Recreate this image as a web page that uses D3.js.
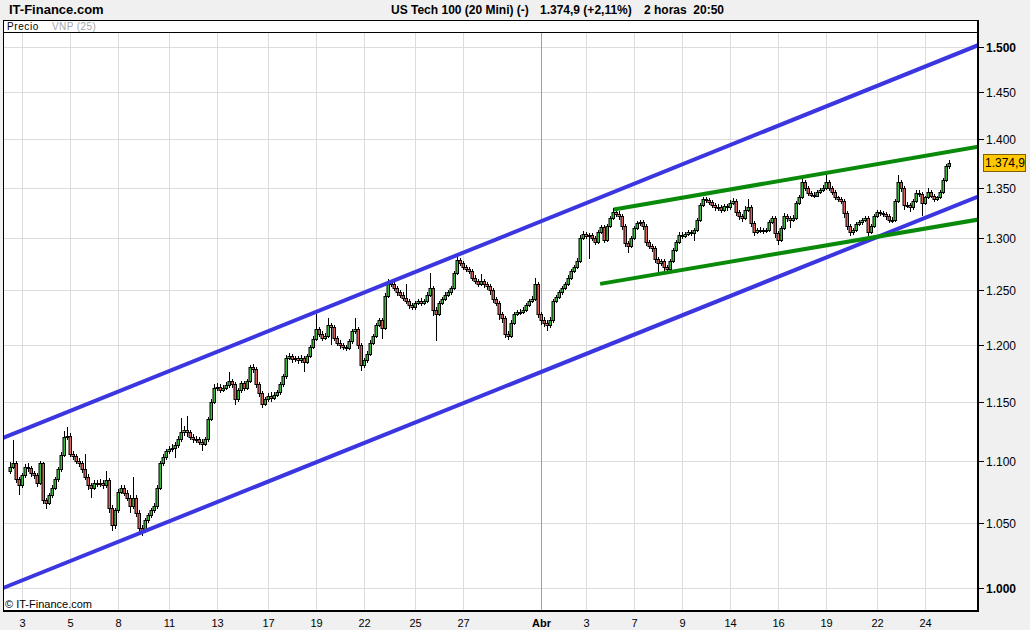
<!DOCTYPE html>
<html><head><meta charset="utf-8">
<script src="https://cdn.jsdelivr.net/npm/d3@7"></script>
<style>
body{margin:0;background:#f0f0f0;}
svg{display:block;font-family:Arial,"Liberation Sans",sans-serif;}
text{white-space:pre;}
</style>
</head><body>
<svg id="c" width="1030" height="630"></svg>
<script>
// ---- data (US Tech 100 mini, 2h bars) ----
const firstOpen = 1092;
const closes = [1095,1098,1085,1080,1088,1095,1094,1090,1088,1082,1098,1068,1066,1072,1078,1085,1093,1105,1120,1121,
1106,1104,1100,1098,1093,1087,1080,1078,1082,1081,1082,1080,1084,1062,1048,1060,1075,1078,1074,1070,
1063,1070,1058,1046,1044,1052,1056,1060,1063,1078,1098,1103,1108,1110,1111,1113,1118,1124,1126,1124,
1120,1118,1118,1116,1114,1118,1135,1150,1162,1163,1160,1162,1164,1168,1165,1152,1160,1166,1162,1168,
1180,1178,1165,1157,1148,1152,1155,1153,1156,1158,1165,1172,1188,1190,1187,1188,1186,1188,1185,1190,
1198,1205,1214,1210,1206,1208,1218,1216,1206,1202,1200,1198,1197,1203,1212,1214,1200,1182,1186,1192,
1202,1208,1218,1222,1215,1245,1258,1256,1252,1248,1246,1243,1240,1236,1234,1238,1240,1238,1240,1246,
1252,1232,1228,1238,1242,1246,1248,1252,1266,1279,1276,1272,1270,1268,1262,1259,1256,1259,1256,1254,
1250,1242,1238,1228,1224,1210,1208,1220,1228,1230,1230,1232,1236,1240,1242,1256,1228,1222,1220,1218,
1222,1240,1244,1248,1252,1256,1262,1268,1272,1278,1300,1304,1302,1303,1300,1296,1306,1311,1298,1312,
1320,1326,1324,1322,1312,1295,1292,1300,1310,1315,1316,1312,1296,1292,1290,1280,1276,1278,1272,1270,
1278,1288,1296,1303,1302,1304,1306,1305,1308,1318,1332,1338,1337,1335,1332,1330,1330,1328,1331,1330,
1334,1336,1326,1322,1320,1328,1330,1315,1306,1308,1308,1307,1308,1316,1320,1305,1298,1310,1322,1320,
1318,1320,1334,1340,1356,1350,1345,1343,1342,1346,1348,1350,1356,1350,1346,1340,1338,1336,1325,1312,
1306,1308,1314,1316,1318,1320,1306,1312,1322,1326,1325,1324,1322,1318,1318,1336,1356,1350,1332,1332,
1330,1336,1345,1344,1334,1340,1346,1342,1338,1340,1346,1358,1372,1374.9];
const highs = [1099,1117,1100,1087,1090,1097,1098,1096,1092,1090,1100,1099,1070,1074,1080,1087,1095,1107,1125,1128,
1123,1108,1106,1102,1100,1106,1089,1082,1084,1084,1085,1084,1092,1086,1064,1062,1077,1080,1080,1076,
1072,1087,1072,1060,1048,1054,1058,1062,1066,1080,1100,1106,1110,1112,1114,1116,1121,1136,1129,1138,
1126,1122,1121,1120,1118,1120,1137,1152,1165,1166,1165,1164,1167,1176,1170,1167,1162,1168,1168,1170,
1182,1183,1180,1167,1159,1154,1157,1158,1158,1160,1167,1174,1191,1193,1192,1190,1190,1191,1190,1192,
1200,1208,1228,1216,1212,1211,1224,1220,1218,1208,1204,1202,1200,1205,1214,1224,1216,1202,1188,1194,
1204,1210,1220,1224,1224,1247,1261,1260,1258,1254,1250,1248,1256,1242,1238,1240,1242,1243,1242,1248,
1266,1254,1234,1240,1244,1248,1250,1254,1268,1283,1281,1278,1274,1272,1270,1264,1261,1265,1261,1258,
1256,1252,1244,1240,1230,1226,1212,1222,1230,1232,1233,1234,1238,1242,1245,1262,1258,1230,1225,1222,
1225,1242,1246,1250,1254,1258,1264,1270,1274,1281,1303,1307,1306,1305,1305,1302,1308,1313,1313,1314,
1322,1329,1328,1327,1324,1314,1297,1302,1312,1317,1318,1318,1314,1298,1294,1292,1282,1280,1280,1274,
1280,1290,1298,1306,1306,1306,1308,1308,1310,1320,1334,1341,1340,1339,1337,1334,1333,1332,1333,1333,
1337,1339,1338,1328,1324,1331,1338,1332,1317,1310,1311,1310,1310,1318,1322,1322,1307,1312,1325,1324,
1322,1323,1336,1343,1360,1358,1352,1347,1346,1348,1350,1353,1364,1358,1352,1348,1342,1340,1338,1327,
1314,1310,1316,1318,1320,1322,1322,1314,1324,1328,1328,1327,1326,1324,1321,1338,1363,1358,1352,1335,
1334,1338,1348,1348,1346,1342,1350,1348,1344,1342,1348,1360,1374,1378];
const lows = [1089,1093,1082,1072,1078,1086,1091,1087,1085,1079,1080,1065,1061,1064,1070,1076,1083,1091,1103,1117,
1103,1101,1097,1095,1090,1084,1076,1070,1076,1079,1079,1077,1078,1058,1044,1045,1058,1073,1071,1067,
1058,1061,1055,1042,1040,1042,1050,1054,1058,1061,1076,1096,1101,1106,1107,1102,1111,1116,1121,1120,
1117,1115,1115,1113,1108,1112,1116,1133,1148,1159,1157,1158,1160,1162,1162,1147,1150,1157,1159,1160,
1166,1175,1162,1154,1144,1146,1150,1150,1151,1154,1156,1163,1170,1186,1184,1185,1183,1184,1176,1183,
1188,1196,1203,1207,1203,1204,1206,1200,1203,1199,1196,1195,1194,1195,1201,1210,1196,1177,1179,1184,
1190,1200,1206,1216,1205,1213,1243,1253,1249,1245,1243,1240,1237,1233,1232,1232,1236,1235,1236,1238,
1244,1226,1203,1226,1236,1240,1244,1246,1250,1264,1273,1269,1267,1265,1259,1256,1253,1254,1252,1250,
1246,1238,1235,1222,1220,1206,1204,1206,1218,1226,1227,1228,1230,1234,1238,1240,1224,1218,1216,1212,
1215,1220,1238,1242,1246,1250,1254,1260,1266,1270,1276,1298,1299,1280,1297,1293,1294,1304,1295,1296,
1310,1318,1321,1318,1308,1291,1285,1290,1298,1308,1312,1308,1292,1289,1286,1276,1266,1273,1268,1267,
1268,1276,1286,1294,1299,1300,1302,1302,1297,1306,1316,1330,1334,1332,1329,1327,1327,1325,1326,1327,
1328,1332,1322,1318,1316,1318,1326,1311,1302,1304,1305,1304,1305,1306,1314,1300,1293,1296,1308,1316,
1310,1316,1318,1332,1338,1347,1342,1340,1339,1340,1344,1346,1348,1347,1343,1337,1335,1333,1320,1308,
1302,1303,1306,1312,1313,1316,1302,1304,1310,1320,1322,1321,1318,1315,1315,1316,1334,1346,1328,1329,
1326,1328,1334,1341,1322,1332,1338,1339,1335,1336,1338,1344,1356,1369];
const priceTicks = [1000,1050,1100,1150,1200,1250,1300,1350,1400,1450,1500];
const boldTicks = [1000,1500];
const dateLabels = ["3","5","8","11","13","17","19","22","25","27","Abr","3","7","9","14","16","19","22","24"];
const dateIndex  = [4,20,36,53,69,86,102,118,135,151,177,192,208,224,240,256,272,289,305];
const monthLabel = "Abr";
const blueChannel = [ [[-2.3,1119],[322.7,1502]], [[-2.3,1000],[322.7,1341]] ];
const greenWedge  = [ [[201.3,1328],[322.7,1392]], [[196.7,1256],[322.7,1318]] ];
const titleParts = ["US Tech 100 (20 Mini) (-)", "1.374,9 (+2,11%)", "2 horas  20:50"];

// ---- layout ----
const L = 3, R = 978, T = 20, LEG = 32, B = 610;
const svg = d3.select("#c");
const es = d3.formatLocale({decimal:",", thousands:".", grouping:[3], currency:["","€"]});
const fmt0 = es.format(",.0f"), fmt1 = es.format(",.1f");

const bars = closes.map((c,i)=>({i, o: i===0?firstOpen:closes[i-1], h: highs[i], l: lows[i], c}));

const x = d3.scaleLinear().domain([0, closes.length-1]).range([10, 949]);
const y = d3.scaleLog().domain([1000,1500]).range([588,47]);

// header
svg.append("rect").attr("width",1030).attr("height",630).attr("fill","#f0f0f0");
svg.append("text").attr("x",9).attr("y",14).attr("font-size",13).attr("font-weight","bold").text("IT-Finance.com");
const tx = [391, 540, 644];
titleParts.forEach((t,k)=> svg.append("text").attr("x",tx[k]).attr("y",14).attr("font-size",12).attr("font-weight","bold").text(t));

// plot background
svg.append("rect").attr("x",L).attr("y",T).attr("width",R-L).attr("height",B-T).attr("fill","#fff");

// grid
const g = svg.append("g");
g.selectAll("line.h").data(priceTicks).join("line")
 .attr("x1",L).attr("x2",R).attr("y1",d=>Math.round(y(d))+0.5).attr("y2",d=>Math.round(y(d))+0.5)
 .attr("stroke","#dcdcdc");
g.selectAll("line.v").data(dateIndex).join("line")
 .attr("x1",d=>Math.round(x(d))+0.5).attr("x2",d=>Math.round(x(d))+0.5).attr("y1",LEG).attr("y2",B)
 .attr("stroke",(d,k)=>dateLabels[k]===monthLabel?"#a0a0a0":"#dcdcdc");

// legend row
svg.append("line").attr("x1",L).attr("x2",R).attr("y1",LEG+0.5).attr("y2",LEG+0.5).attr("stroke","#000");
svg.append("text").attr("x",7).attr("y",30).attr("font-size",10).attr("letter-spacing","0.6").text("Precio");
svg.append("text").attr("x",52).attr("y",30).attr("font-size",10).attr("fill","#a8a8a8").attr("letter-spacing","0.4").text("VNP (25)");

// candles
const cg = svg.append("g");
bars.forEach(d=>{
  const cx = Math.round(x(d.i)) + 0.5;
  cg.append("line").attr("x1",cx).attr("x2",cx).attr("y1",Math.round(y(d.h))).attr("y2",Math.round(y(d.l)))
    .attr("stroke","#000").attr("stroke-width",1);
});
bars.forEach(d=>{
  const cx = Math.round(x(d.i));
  const yt = Math.round(y(Math.max(d.o,d.c))), yb = Math.round(y(Math.min(d.o,d.c)));
  cg.append("rect").attr("x",cx-1).attr("y",yt+0.5).attr("width",2.5).attr("height",Math.max(1,yb-yt))
    .attr("fill", d.c>=d.o ? "#38c038" : "#e0605c").attr("stroke","#000").attr("stroke-width",1);
});

// trend lines
svg.append("clipPath").attr("id","clip").append("rect").attr("x",L).attr("y",LEG).attr("width",R-L).attr("height",B-LEG);
const line = d3.line().x(p=>x(p[0])).y(p=>y(p[1]));
const tl = svg.append("g").attr("clip-path","url(#clip)");
blueChannel.forEach(p=> tl.append("path").attr("d",line(p)).attr("stroke","#3b36e0").attr("stroke-width",4).attr("fill","none"));
greenWedge.forEach(p=> tl.append("path").attr("d",line(p)).attr("stroke","#0a8a0a").attr("stroke-width",4).attr("fill","none"));

// watermark
svg.append("text").attr("x",5).attr("y",608).attr("font-size",11).text("© IT-Finance.com");

// frame
svg.append("line").attr("x1",L+0.5).attr("x2",L+0.5).attr("y1",T).attr("y2",B).attr("stroke","#000");
svg.append("line").attr("x1",L).attr("x2",R).attr("y1",T+0.5).attr("y2",T+0.5).attr("stroke","#000");
svg.append("line").attr("x1",R).attr("x2",R).attr("y1",T).attr("y2",B+2).attr("stroke","#000").attr("stroke-width",2);
svg.append("line").attr("x1",L).attr("x2",R+1).attr("y1",B+1).attr("y2",B+1).attr("stroke","#000").attr("stroke-width",2);

// right axis
const ax = svg.append("g");
priceTicks.forEach(v=>{
  const yy = Math.round(y(v))+0.5;
  ax.append("line").attr("x1",R).attr("x2",R+6).attr("y1",yy).attr("y2",yy).attr("stroke","#000");
  ax.append("text").attr("x",R+8).attr("y",yy+4).attr("font-size",12)
    .attr("font-weight", boldTicks.includes(v)?"bold":"normal").text(fmt0(v));
});

// last price box
const last = closes[closes.length-1];
const ly = y(last);
ax.append("rect").attr("x",R+5.5).attr("y",Math.round(ly)-8.5).attr("width",42).attr("height",17)
  .attr("fill","#ffc800").attr("stroke","#806000");
ax.append("text").attr("x",R+7).attr("y",Math.round(ly)+4).attr("font-size",12).text(fmt1(last));

// bottom axis
svg.append("g").selectAll("text").data(dateIndex).join("text")
  .attr("x",d=>Math.round(x(d))+0.5).attr("y",627).attr("font-size",11).attr("text-anchor","middle")
  .attr("font-weight",(d,k)=>dateLabels[k]===monthLabel?"bold":"normal")
  .text((d,k)=>dateLabels[k]);
</script>
</body></html>
